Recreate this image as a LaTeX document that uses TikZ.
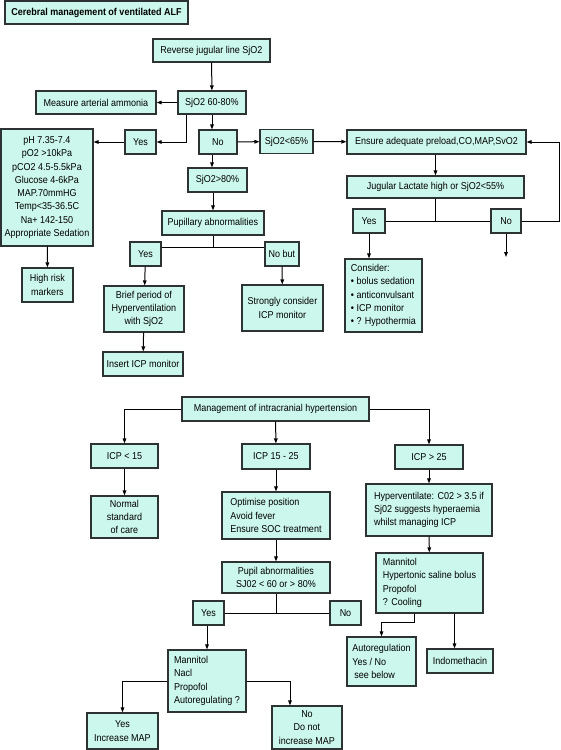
\documentclass[tikz,border=0pt]{standalone}
\usepackage{fontspec}
\setmainfont{Liberation Sans}[FakeStretch=0.9]
\usepackage{tikz}
\usetikzlibrary{arrows.meta,positioning,calc}
\definecolor{boxfill}{RGB}{204,247,236}
\definecolor{boxline}{RGB}{45,50,50}
\tikzset{
  flowbox/.style={draw=boxline, line width=1.1pt, fill=boxfill, inner sep=2pt,
    align=center, font=\fontsize{10}{13.3}\selectfont},
  listbox/.style={flowbox, align=left},
  titlebox/.style={flowbox, font=\fontsize{10}{13.3}\selectfont\bfseries},
  flow/.style={-{Triangle[length=5pt,width=3.6pt]}, line width=1pt},
  link/.style={line width=1pt}
}

\begin{document}
\begin{tikzpicture}[x=1pt,y=-1pt]
\useasboundingbox (0,0) rectangle (561,750);

% sjO2 monitoring
\node[titlebox, minimum width=183pt, minimum height=23pt] (title) at (96.5,12.5) {Cerebral management of ventilated ALF};
\node[flowbox, minimum width=117pt, minimum height=23pt] (rev) at (211.5,50.5) {Reverse jugular line SjO2};
\node[flowbox, minimum width=68pt, minimum height=23pt] (s6080) at (212,102.5) {SjO2 60-80\%};
\node[flowbox, minimum width=120pt, minimum height=23pt] (ammonia) at (96,102.5) {Measure arterial ammonia};
\node[flowbox, minimum width=31pt, minimum height=24pt] (yes1) at (140.5,142) {Yes};
\node[flowbox, minimum width=92pt, minimum height=117pt] (params) at (47,187.5) {pH 7.35-7.4\\pO2 >10kPa\\pCO2 4.5-5.5kPa\\Glucose 4-6kPa\\MAP.70mmHG\\Temp<35-36.5C\\Na+ 142-150\\Appropriate Sedation};
\node[flowbox, minimum width=51pt, minimum height=34pt] (highrisk) at (47.5,285) {High risk\\markers};
\node[flowbox, minimum width=38pt, minimum height=24pt] (no1) at (218,142) {No};
\node[flowbox, minimum width=53pt, minimum height=24pt] (s65) at (286.5,141.5) {SjO2<65\%};
\node[flowbox, minimum width=179pt, minimum height=24pt] (ensure) at (436.5,142) {Ensure adequate preload,CO,MAP,SvO2};
\node[flowbox, minimum width=177pt, minimum height=22pt] (jug) at (435.5,187) {Jugular Lactate high or SjO2<55\%};
\node[flowbox, minimum width=32pt, minimum height=24pt] (yes3) at (369,221) {Yes};
\node[flowbox, minimum width=30pt, minimum height=24pt] (no3) at (506,221) {No};
\coordinate (noend) at (506,257);
\coordinate (loop) at (559,0);
\node[listbox, minimum width=77pt, minimum height=73pt] (consider) at (383.5,295.5) {Consider:\\\textbullet\ bolus sedation\\\textbullet\ anticonvulsant\\\textbullet\ ICP monitor\\\textbullet\ ? Hypothermia};
\node[flowbox, minimum width=59pt, minimum height=24pt] (s80) at (217.5,180) {SjO2>80\%};
\node[flowbox, minimum width=102pt, minimum height=24pt] (pupil) at (213,223) {Pupillary abnormalities};
\node[flowbox, minimum width=31pt, minimum height=24pt] (yes2) at (145.5,254) {Yes};
\node[flowbox, minimum width=34pt, minimum height=24pt] (nobut) at (282,254) {No but};
\node[flowbox, minimum width=80pt, minimum height=46pt] (brief) at (144,309) {Brief period of\\Hyperventilation\\with SjO2};
\node[flowbox, minimum width=80pt, minimum height=24pt] (insert) at (143,364) {Insert ICP monitor};
\node[flowbox, minimum width=81pt, minimum height=46pt] (strongly) at (282.5,308) {Strongly consider\\ICP monitor};

\draw[flow] (rev) -- (s6080);
\draw[flow] (s6080) -- (ammonia);
\draw[flow] ([xshift=-26pt]s6080.south) |- (yes1.east);
\draw[flow] (yes1.west) -- (yes1.west -| params.east);
\draw[flow] (params) -- (highrisk);
\draw[flow] (s6080.south) -- (s6080.south |- no1.north);
\draw[flow] (no1) -- (s65);
\draw[flow] (s65) -- (ensure);
\draw[flow] (no1.south -| s6080) -- (s80.north -| s6080);
\draw[flow] (s80.south -| pupil) -- (pupil.north);
\draw[link] (pupil.south) -- ++(0,12) coordinate (pj);
\draw[link] (yes2.east |- pj) -- (nobut.west |- pj);
\draw[flow] (yes2) -- (brief);
\draw[flow] (brief) -- (insert);
\draw[flow] (nobut) -- (strongly);
\draw[flow] (ensure.south -| jug) -- (jug.north);
\draw[link] (jug.south) -- (jug.south |- yes3.east);
\draw[link] (yes3.east) -- (no3.west);
\draw[flow] (yes3.south) -- (yes3.south |- consider.north);
\draw[flow] (no3) -- (noend);
\draw[flow] (no3.east) -- (no3.east -| loop) |- (ensure.east);

% intracranial hypertension
\node[flowbox, minimum width=187pt, minimum height=24pt] (mgmt) at (275.5,409) {Management of intracranial hypertension};
\node[flowbox, minimum width=67pt, minimum height=24pt] (icp15) at (124.5,456) {ICP < 15};
\node[flowbox, minimum width=67pt, minimum height=42pt] (normal) at (124.5,517) {Normal\\standard\\of care};
\node[flowbox, minimum width=68pt, minimum height=25pt] (icp1525) at (276,456.5) {ICP 15 - 25};
\node[listbox, minimum width=108pt, minimum height=47pt] (optimise) at (276,515.5) {Optimise position\\Avoid fever\\Ensure SOC treatment};
\node[flowbox, minimum width=108pt, minimum height=31pt] (pupil2) at (276,577.5) {Pupil abnormalities\\SJ02 < 60 or > 80\%};
\node[flowbox, minimum width=31pt, minimum height=24pt] (yes4) at (208.5,613) {Yes};
\node[flowbox, minimum width=31pt, minimum height=24pt] (no4) at (345.5,613) {No};
\node[listbox, minimum width=78pt, minimum height=62pt] (mann1) at (207,681) {Mannitol\\Nacl\\Propofol\\Autoregulating ?};
\node[flowbox, minimum width=71pt, minimum height=36pt] (yesmap) at (122.5,731) {Yes\\Increase MAP};
\node[flowbox, minimum width=70pt, minimum height=43pt] (nomap) at (307,727.5) {No\\Do not\\increase MAP};
\node[flowbox, minimum width=68pt, minimum height=24pt] (icp25) at (429,457) {ICP > 25};
\node[listbox, minimum width=126pt, minimum height=52pt] (hyper) at (429,510) {Hyperventilate: C02 > 3.5 if\\Sj02 suggests hyperaemia\\whilst managing ICP};
\node[listbox, minimum width=107pt, minimum height=60pt] (mann2) at (429.5,583) {Mannitol\\Hypertonic saline bolus\\Propofol\\? Cooling};
\node[listbox, minimum width=69pt, minimum height=49pt] (autoreg) at (381.5,661.5) {Autoregulation\\Yes / No\\\hspace{2pt}see below};
\node[flowbox, minimum width=66pt, minimum height=24pt] (indo) at (460,661) {Indomethacin};

\draw[flow] (mgmt.west) -| (icp15.north);
\draw[flow] (mgmt) -- (icp1525);
\draw[flow] (mgmt.east) -| (icp25.north);
\draw[flow] (icp15) -- (normal);
\draw[flow] (icp1525) -- (optimise);
\draw[flow] (optimise) -- (pupil2);
\draw[link] (pupil2.south) -- (pupil2.south |- yes4.east);
\draw[link] (yes4.east) -- (no4.west);
\draw[flow] (yes4.south -| mann1) -- (mann1.north);
\draw[flow] (mann1.west) -| (yesmap.north);
\draw[flow] (mann1.east) -| ([xshift=-17pt]nomap.north);
\draw[flow] (icp25) -- (hyper);
\draw[flow] (hyper) -- (mann2);
\draw[flow] ([xshift=-15pt]mann2.south) -- ++(0,9) -| (autoreg.north);
\draw[flow] ([xshift=25pt]mann2.south) -- ([xshift=25pt]mann2.south |- indo.north);
\end{tikzpicture}
\end{document}
